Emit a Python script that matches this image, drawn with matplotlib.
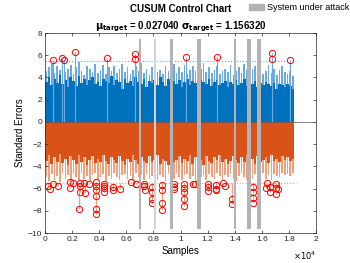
import numpy as np
import matplotlib
matplotlib.use("Agg")
import matplotlib.pyplot as plt
from matplotlib.patches import Patch

plt.rcParams['font.family'] = ['Liberation Sans', 'DejaVu Sans']

# sample positions of the dense CUSUM trace (one reading every 200 samples)
step = 200
pos_peak = [4.6, 4.9, 5.2, 4.4, 5.0, 4.7, 5.3, 4.5, 4.8, 5.1,
            4.3, 4.9, 5.4, 4.6, 4.2, 5.0, 4.8, 4.5, 5.2, 4.4,
            4.7, 5.1, 4.3, 4.9, 4.6, 5.0, 4.4, 4.8, 5.2, 4.5,
            4.9, 4.3, 4.7, 5.0, 4.6, 5.3, 4.4, 4.8, 4.2, 4.9,
            5.1, 4.5, 4.7, 4.3, 5.0, 4.6, 4.8, 5.2, 4.4, 4.9,
            4.5, 5.1, 4.3, 4.7, 5.0, 4.6, 4.2, 4.8, 5.3, 4.5,
            4.9, 4.4, 4.7, 5.0, 4.3, 4.6, 4.8, 4.5, 5.1, 4.2,
            4.6, 4.9, 4.4, 5.2, 4.7, 4.3, 4.8, 5.0, 4.5, 4.9,
            4.3, 4.6, 5.1, 4.4, 4.8, 4.2, 4.7, 5.0, 4.5, 4.3,
            4.6, 4.1]
pos_core = [3.6, 4.0, 3.3, 3.9, 3.5, 4.2, 3.4, 3.8, 3.1, 4.0,
            3.7, 3.2, 4.1, 3.5, 3.9, 3.3, 3.8, 4.0, 3.4, 3.6,
            3.2, 3.9, 3.7, 3.5, 4.1, 3.3, 3.8, 3.6, 3.0, 3.9,
            3.5, 3.7, 3.2, 4.0, 3.6, 3.4, 3.9, 3.1, 3.7, 3.5,
            3.8, 3.3, 4.0, 3.6, 3.2, 3.9, 3.5, 3.7, 3.4, 3.8,
            3.1, 3.6, 3.9, 3.3, 3.7, 3.5, 3.0, 3.8, 3.6, 3.4,
            3.9, 3.2, 3.6, 3.8, 3.3, 3.5, 3.7, 3.1, 3.6, 3.4,
            3.8, 3.3, 3.5, 3.9, 3.2, 3.6, 3.4, 3.7, 3.1, 3.5,
            3.3, 3.6, 3.4, 3.2, 3.5, 3.0, 3.4, 3.3, 3.1, 3.4,
            3.2, 3.0]
neg_peak = [-5.0, -5.3, -4.7, -5.2, -4.9, -5.4, -4.6, -5.1, -4.8, -5.3,
            -4.7, -5.0, -5.2, -4.6, -5.1, -4.9, -5.3, -4.8, -4.6, -5.2,
            -5.0, -4.7, -5.3, -4.9, -5.1, -4.6, -5.0, -5.2, -4.8, -4.7,
            -5.1, -4.9, -5.3, -4.6, -5.0, -4.8, -5.2, -4.7, -5.1, -4.9,
            -4.6, -5.2, -4.8, -5.0, -5.3, -4.7, -4.9, -5.1, -4.6, -5.0,
            -5.2, -4.8, -4.7, -5.1, -4.9, -5.3, -4.6, -5.0, -4.8, -5.2,
            -4.7, -5.0, -5.1, -4.6, -4.9, -5.2, -4.8, -5.0, -4.7, -5.1,
            -5.3, -4.9, -4.6, -5.0, -5.2, -4.8, -5.1, -4.7, -4.9, -5.0,
            -4.6, -5.1, -4.8, -5.2, -4.7, -4.9, -5.0, -4.6, -4.8, -4.7,
            -4.9, -4.6]
neg_core = [-3.5, -3.0, -3.8, -3.2, -3.6, -2.9, -3.7, -3.3, -3.9, -3.1,
            -3.4, -3.8, -3.0, -3.6, -3.2, -3.9, -3.4, -3.1, -3.7, -3.3,
            -3.6, -3.0, -3.5, -3.8, -3.2, -3.4, -3.7, -3.1, -3.5, -3.9,
            -3.3, -3.6, -3.0, -3.4, -3.8, -3.2, -3.5, -3.7, -3.1, -3.6,
            -3.4, -3.0, -3.8, -3.3, -3.5, -3.9, -3.2, -3.6, -3.4, -3.1,
            -3.7, -3.3, -3.5, -3.0, -3.8, -3.2, -3.6, -3.4, -3.9, -3.1,
            -3.5, -3.7, -3.2, -3.4, -3.0, -3.6, -3.3, -3.8, -3.5, -3.1,
            -3.4, -3.7, -3.2, -3.6, -3.0, -3.5, -3.3, -3.8, -3.1, -3.6,
            -3.4, -3.2, -3.7, -3.0, -3.5, -3.3, -3.6, -3.1, -3.4, -3.2,
            -3.5, -3.3]

# out-of-control points
pos_out_x = [610, 1230, 1420, 2240, 4550, 6640, 6660, 10380, 12670, 16730, 16750, 18080]
pos_out_y = [5.57, 5.73, 5.60, 6.26, 5.73, 6.14, 5.66, 5.81, 5.81, 6.17, 5.66, 5.57]
neg_out_x = [221, 370, 613, 985, 1820, 1845, 2090, 2510, 2580, 2590, 2600, 2880, 2930,
             3250, 3730, 3735, 3740, 3745, 3750, 3755, 4350, 4355, 4360, 4365,
             5015, 5020, 5535, 6370, 6690, 6715, 7330, 7340, 7350, 7890, 7895, 7900, 7905,
             8630, 8635, 8640, 8645, 9530, 9540, 9550, 10250, 10255, 10260, 10265, 10270,
             10900, 11090, 12020, 12030, 12040, 12600, 12640, 12650, 13140, 13280,
             13800, 13805, 15340, 15345, 15350, 15355, 16330, 16400, 16600, 16605,
             17040, 17045, 17050, 17190]
neg_out_y = [-5.75, -6.05, -5.63, -5.75, -5.99, -5.45, -5.47, -7.80, -5.54, -5.78, -6.30,
             -5.47, -6.44, -5.63, -5.45, -5.75, -6.14, -6.66, -7.80, -8.33,
             -5.60, -5.75, -5.99, -6.30, -5.84, -6.14, -6.05, -5.45, -5.60, -5.57,
             -5.57, -5.78, -6.14, -5.84, -6.35, -6.90, -7.34, -5.70, -6.14, -7.34, -7.95,
             -5.57, -5.84, -6.05, -5.60, -5.99, -6.30, -6.96, -7.56, -5.60, -5.60,
             -5.60, -5.84, -6.23, -6.05, -5.70, -6.14, -5.47, -5.75, -6.96, -7.43,
             -5.84, -6.30, -6.81, -7.30, -5.99, -5.47, -5.84, -6.35, -5.57, -5.99,
             -6.50, -6.05]

threshold = 5.5
attack_start = [6920, 8075, 9250, 11240, 13935, 14890, 15650]
attack_width = [180, 90, 200, 300, 170, 280, 320]
attack_top = 7.5
attack_bottom = -9.6

blue = '#0072BD'
orange = '#D95319'
light_blue = '#6BAAE0'
light_orange = '#EDA07C'
band_cols = ['#B3B3B3', '#D3D3D3', '#B3B3B3', '#B3B3B3', '#B3B3B3', '#B3B3B3', '#B3B3B3']

fig = plt.figure(figsize=(3.5, 2.63), dpi=100)
ax = fig.add_axes([0.1286, 0.114, 0.7744, 0.7605])

xs = np.arange(len(pos_peak)) * step + step / 2
ax.bar(xs, pos_peak, width=step * 0.6, color=light_blue, linewidth=0)
ax.bar(xs, neg_peak, width=step * 0.6, color=light_orange, linewidth=0)
ax.bar(xs, pos_core, width=step, color=blue, linewidth=0)
ax.bar(xs, neg_core, width=step, color=orange, linewidth=0)

# stems up to the flagged samples
ax.vlines(pos_out_x, 0, pos_out_y, color=light_blue, lw=0.8)
ax.vlines(neg_out_x, -threshold, neg_out_y, color=light_orange, lw=0.8)

ax.axhline(0, color='#555555', lw=0.5)
ax.plot([0, 18500], [threshold, threshold], ls=':', color=light_blue, lw=0.8)
ax.plot([0, 18500], [-threshold, -threshold], ls=':', color=light_orange, lw=0.8)

ax.plot(pos_out_x, pos_out_y, 'o', mfc='none', mec='red', ms=4.5, mew=0.7)
ax.plot(neg_out_x, neg_out_y, 'o', mfc='none', mec='red', ms=4.5, mew=0.7)

ax.bar(attack_start, attack_top - attack_bottom, width=attack_width, bottom=attack_bottom,
       align='edge', color=band_cols, linewidth=0, zorder=3)

ax.set_xlim(0, 20000)
ax.set_ylim(-10, 8)
ax.set_xticks(np.arange(0, 20001, 2000))
ax.set_xticklabels(['0', '0.2', '0.4', '0.6', '0.8', '1', '1.2', '1.4', '1.6', '1.8', '2'])
ax.set_yticks(np.arange(-10, 9, 2))
ax.tick_params(direction='in', length=2.5, width=0.5, labelsize=6, top=True, right=True,
               colors='#262626', pad=2)
for s in ax.spines.values():
    s.set_linewidth(0.5)
    s.set_color('#262626')
ax.set_xlabel('Samples', fontsize=7, labelpad=2)
ax.set_ylabel('Standard Errors', fontsize=7, labelpad=2)
ax.text(1.0, -0.115, r'$\times10^4$', transform=ax.transAxes, ha='right', va='center', fontsize=6)

fig.text(0.515, 0.985, 'CUSUM Control Chart', ha='center', va='top', fontsize=7, fontweight='bold')
fig.text(0.515, 0.925, r'$\mathbf{\mu_{target}}$ = 0.027040 $\mathbf{\sigma_{target}}$ = 1.156320',
         ha='center', va='top', fontsize=7, fontweight='bold')

fig.legend(handles=[Patch(color='#B3B3B3', label='System under attack')], loc='upper right',
           bbox_to_anchor=(1.02, 1.02), frameon=False, fontsize=6.5, handlelength=1.6,
           handletextpad=0.3)

fig.savefig('out.png', dpi=100)
